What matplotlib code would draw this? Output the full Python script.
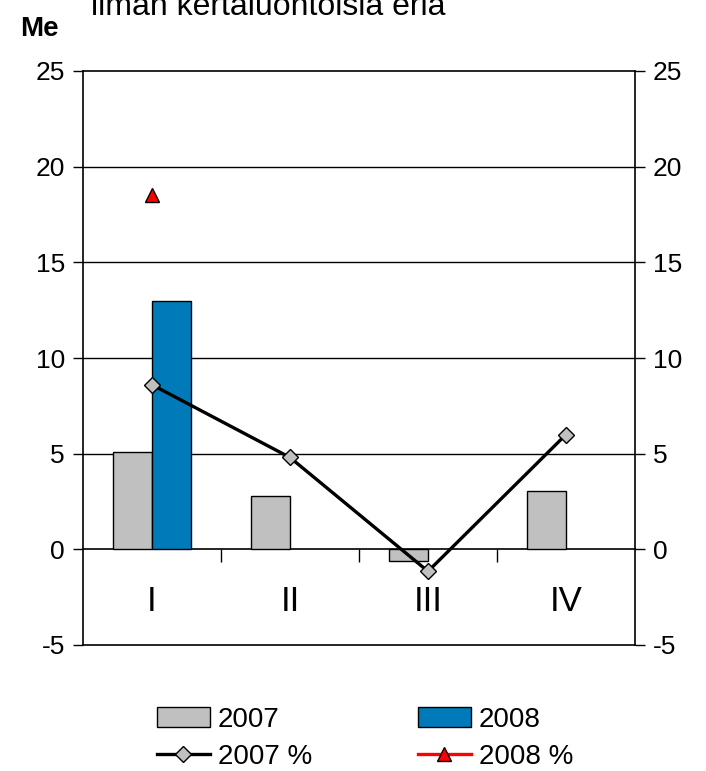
import matplotlib.pyplot as plt
import numpy as np

plt.rcParams['font.family'] = ['Liberation Sans', 'DejaVu Sans']

# data
quarters = ["I", "II", "III", "IV"]
bars_2007 = [5.1, 2.8, -0.6, 3.05]
bars_2008 = [13.0]
pct_2007 = [8.6, 4.8, -1.15, 6.0]
pct_2008 = [18.5]
y_ticks = [-5, 0, 5, 10, 15, 20, 25]

fig = plt.figure(figsize=(7.06, 7.71), dpi=100, facecolor='white')
ax = fig.add_axes([83 / 706, 126 / 771, 552 / 706, 574 / 771])

x = np.arange(len(quarters))
w = 0.28
b07 = ax.bar(x - w / 2, bars_2007, w, color='#C0C0C0', edgecolor='black',
             linewidth=1, label='2007', zorder=3)
b08 = ax.bar(x[:len(bars_2008)] + w / 2, bars_2008, w, color='#007AB8',
             edgecolor='black', linewidth=1, label='2008', zorder=3)

l07, = ax.plot(x, pct_2007, color='black', linewidth=2.4, marker='D',
               markersize=8, markerfacecolor='#C0C0C0', markeredgecolor='black',
               markeredgewidth=1, label='2007 %', zorder=4)
l08, = ax.plot(x[:len(pct_2008)], pct_2008, color='red', linewidth=2.4,
               marker='^', markersize=10, markerfacecolor='red',
               markeredgecolor='black', markeredgewidth=1, label='2008 %',
               zorder=4)

ax.set_xlim(-0.5, 3.5)
ax.set_ylim(-5, 25)
ax.set_yticks(y_ticks)
ax.set_yticklabels([str(t) for t in y_ticks])
for t in y_ticks[2:-1]:
    ax.axhline(t, color='black', linewidth=1, zorder=1)

# x axis runs through zero, box closed at -5
ax.spines['bottom'].set_position(('data', 0))
ax.axhline(-5, color='black', linewidth=1.2, clip_on=False, zorder=1)
for s in ['left', 'right', 'top', 'bottom']:
    ax.spines[s].set_linewidth(1.2)

ax.set_xticks(x)
ax.set_xticklabels(quarters, fontsize=25)
ax.set_xticks([0.5, 1.5, 2.5], minor=True)
ax.tick_params(axis='x', which='major', length=0, pad=26)
ax.tick_params(axis='x', which='minor', length=9, width=1, direction='out')
ax.tick_params(axis='y', labelsize=19, length=7, width=1, direction='out',
               pad=6)

ax2 = ax.twinx()
ax2.set_ylim(-5, 25)
ax2.set_yticks(y_ticks)
ax2.set_yticklabels([str(t) for t in y_ticks])
ax2.tick_params(axis='y', labelsize=19, length=7, width=1, direction='out',
                pad=6)
for s in ax2.spines.values():
    s.set_visible(False)

fig.text(20 / 706, 1 - 29 / 771, 'Me', fontsize=20, fontweight='bold',
         va='center', ha='left')
fig.text(268 / 706, 1 - 15 / 771, 'Liikevoitto\nilman kertaluontoisia eriä',
         fontsize=23, ha='center', va='baseline', linespacing=1.1)

fig.legend([b07, l07, b08, l08], ['2007', '2007 %', '2008', '2008 %'],
           ncol=2, loc='upper left', bbox_to_anchor=(143 / 706, 1 - 693 / 771),
           frameon=False, fontsize=20, handlelength=1.9, columnspacing=3.8,
           handletextpad=0.3, labelspacing=0.4, borderpad=0)

fig.savefig('out.png', dpi=100)
